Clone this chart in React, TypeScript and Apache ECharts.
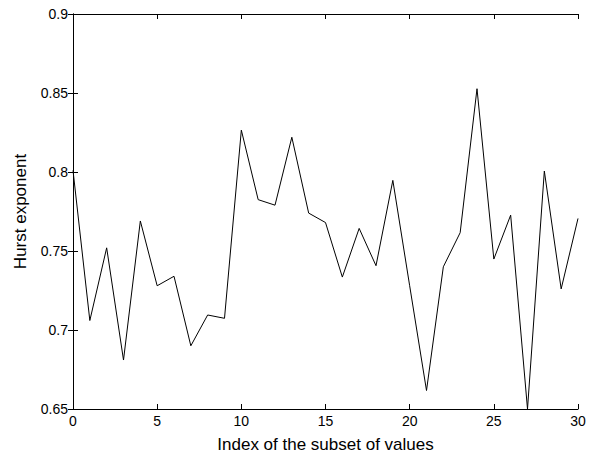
import React, { useEffect, useRef } from "react";
import * as echarts from "echarts";

const indices: number[] = Array.from({ length: 31 }, (_, i) => i);
const hurst: number[] = [
  0.801, 0.706, 0.752, 0.681, 0.769, 0.728, 0.734, 0.69, 0.7095, 0.7074,
  0.8265, 0.7825, 0.779, 0.822, 0.774, 0.768, 0.7335, 0.7643, 0.7407, 0.7947,
  0.728, 0.6617, 0.74, 0.7616, 0.8527, 0.7449, 0.7727, 0.65, 0.8006, 0.726,
  0.7706,
];
const xTicks: number[] = [0, 5, 10, 15, 20, 25, 30];
const yTicks: number[] = [0.65, 0.7, 0.75, 0.8, 0.85, 0.9];

const FONT = "'Liberation Sans', Arial, Helvetica, sans-serif";

export default function App() {
  const ref = useRef<HTMLDivElement>(null);
  useEffect(() => {
    if (!ref.current) return;
    const chart = echarts.init(ref.current, undefined, { renderer: "svg" });
    const axisLine = { show: true, lineStyle: { color: "#000", width: 1 } };
    const axisTick = { show: true, inside: true, length: 5, lineStyle: { color: "#000", width: 1 } };
    chart.setOption({
      animation: false,
      backgroundColor: "#fff",
      grid: { left: 73, top: 14, right: 21, bottom: 46, containLabel: false },
      xAxis: [
        {
          type: "value",
          min: 0,
          max: 30,
          interval: 5,
          axisLine,
          axisTick,
          splitLine: { show: false },
          axisLabel: {
            color: "#000",
            fontFamily: FONT,
            fontSize: 14,
            margin: 5,
            formatter: (v: number) => (xTicks.includes(v) ? String(v) : ""),
          },
          name: "Index of the subset of values",
          nameLocation: "middle",
          nameGap: 27,
          nameTextStyle: { color: "#000", fontFamily: FONT, fontSize: 17 },
        },
        {
          type: "value",
          position: "top",
          min: 0,
          max: 30,
          interval: 5,
          axisLine,
          axisTick,
          splitLine: { show: false },
          axisLabel: { show: false },
        },
      ],
      yAxis: [
        {
          type: "value",
          min: 0.65,
          max: 0.9,
          interval: 0.05,
          axisLine,
          axisTick,
          splitLine: { show: false },
          axisLabel: {
            color: "#000",
            fontFamily: FONT,
            fontSize: 14,
            margin: 5,
            formatter: (v: number) => {
              const t = yTicks.find((y) => Math.abs(y - v) < 1e-6);
              return t === undefined ? "" : String(t);
            },
          },
          name: "Hurst exponent",
          nameLocation: "middle",
          nameGap: 44,
          nameTextStyle: { color: "#000", fontFamily: FONT, fontSize: 17 },
        },
        {
          type: "value",
          position: "right",
          min: 0.65,
          max: 0.9,
          interval: 0.05,
          axisLine,
          axisTick,
          splitLine: { show: false },
          axisLabel: { show: false },
        },
      ],
      series: [
        {
          type: "line",
          data: indices.map((i) => [i, hurst[i]]),
          showSymbol: false,
          symbol: "none",
          lineStyle: { color: "#000", width: 1 },
          clip: true,
        },
      ],
    });
    return () => chart.dispose();
  }, []);
  return (
    <div
      ref={ref}
      style={{ position: "absolute", left: 0, top: 0, width: 599, height: 458 }}
    />
  );
}
